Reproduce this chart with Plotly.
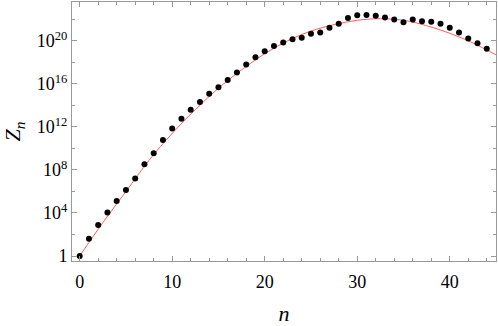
import plotly.graph_objects as go

# Data: n and log10(Z_n)
n_vals = list(range(45))
log10_Z = [0.0, 1.6, 2.89, 4.05, 5.12, 6.13, 7.2, 8.53, 9.55, 10.79,
           11.86, 12.75, 13.58, 14.31, 15.07, 15.69, 16.36, 17.04, 17.8, 18.47,
           19.03, 19.52, 19.83, 20.13, 20.28, 20.65, 20.77, 21.2, 21.57, 22.12,
           22.37, 22.4, 22.33, 22.15, 21.97, 21.73, 21.97, 21.82, 21.76, 21.57,
           21.2, 20.77, 20.22, 19.76, 19.25]

# Red fitted curve
fit_n = [0, 2.5, 5, 7.5, 10, 12.5, 15, 17.5, 20, 22.5, 25, 27.5, 30, 32.5,
         35, 37.5, 40, 42.5, 45]
fit_log10 = [0.0, 3.1, 6.0, 8.9, 11.4, 13.6, 15.6, 17.3, 18.8, 20.0, 20.9,
             21.5, 21.9, 22.05, 21.9, 21.4, 20.7, 19.8, 18.7]

y_tick_exps = [0, 4, 8, 12, 16, 20]
y_tick_text = ["1", "10<sup>4</sup>", "10<sup>8</sup>", "10<sup>12</sup>",
               "10<sup>16</sup>", "10<sup>20</sup>"]
x_tick_vals = [0, 10, 20, 30, 40]

Z = [10.0 ** v for v in log10_Z]
fitZ = [10.0 ** v for v in fit_log10]

fig = go.Figure()
fig.add_trace(go.Scatter(x=fit_n, y=fitZ, mode="lines",
                         line=dict(color="#ff6060", width=1, shape="spline"),
                         showlegend=False, hoverinfo="skip"))
fig.add_trace(go.Scatter(x=n_vals, y=Z, mode="markers",
                         marker=dict(color="black", size=6),
                         showlegend=False))

font = dict(family="Liberation Serif", size=18, color="black")
frame = "#999999"

fig.update_layout(
    width=498, height=326,
    margin=dict(l=72, r=2, t=1, b=64),
    paper_bgcolor="white", plot_bgcolor="white",
    font=font,
    xaxis=dict(range=[-0.83, 45], tickvals=x_tick_vals, ticks="inside",
               ticklen=5, tickcolor=frame, showline=True, linecolor=frame,
               linewidth=1, mirror="allticks", showgrid=False, zeroline=False,
               ticklabelstandoff=4,
               minor=dict(ticks="inside", dtick=2, ticklen=3, tickcolor=frame, showgrid=False),
               title=dict(text="<i>n</i>", standoff=18), tickfont=font),
    yaxis=dict(type="log", range=[-0.46, 23.6],
               tickvals=[10.0 ** e for e in y_tick_exps], ticktext=y_tick_text,
               ticks="inside", ticklen=5, tickcolor=frame, showline=True,
               linecolor=frame, linewidth=1, mirror="allticks", showgrid=False,
               zeroline=False,
               minor=dict(ticks="inside", tickvals=[10.0 ** (e + 2) for e in y_tick_exps],
                          ticklen=3, tickcolor=frame, showgrid=False),
               title=dict(text="<i>Z</i><sub><i>n</i></sub>", standoff=12), tickfont=font),
)

fig.write_html("out.html", config={"displayModeBar": False},
               post_script="document.body.style.margin='0';")
